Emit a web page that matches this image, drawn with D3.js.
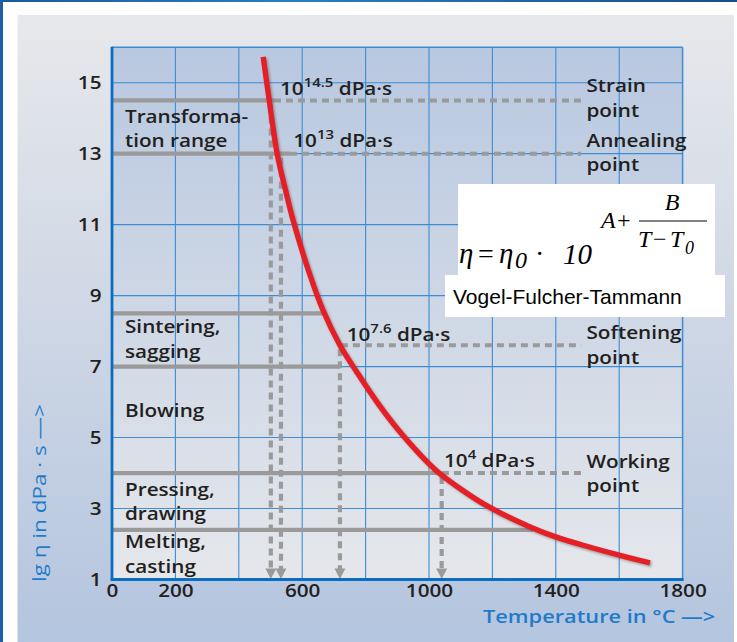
<!DOCTYPE html>
<html><head><meta charset="utf-8">
<script src="https://cdn.jsdelivr.net/npm/d3@7"></script>
<style>
html,body{margin:0;padding:0;background:#fff;}
svg{display:block;}
</style></head>
<body>
<script>
// ---------- data ----------
const tempC = [477, 496, 521, 548, 572, 620, 665, 719, 772, 840, 914, 1019, 1100, 1182, 1319, 1400, 1500, 1603, 1697];
const lgEta = [15.73, 14.5, 13.0, 11.95, 11.1, 9.7, 8.6, 7.6, 6.85, 5.95, 5.1, 4.1, 3.55, 3.08, 2.48, 2.2, 1.93, 1.68, 1.47];

const xTicks = [0, 200, 600, 1000, 1400, 1800];
const xGridVals = [200, 400, 600, 800, 1000, 1200, 1400, 1600];
const yTicks = [1, 3, 5, 7, 9, 11, 13, 15];

// process range boundaries (lg eta) and where the solid gray line ends (°C)
const rangeLevels = [14.5, 13, 8.5, 7, 4, 2.4];
const rangeSolidEnd = [511, 561, 666, 719, 1003, 1328];
// fixed points: lg eta, temperature where it is reached
const fixedLevels = [14.5, 13, 7.6, 4];
const fixedTemps = [501, 533, 719, 1040];
const fixedDashStart = [511, 561, 722, 1003];
const dashEnd = 1480;

const rangeNames = [["Transforma-", "tion range"], ["Sintering,", "sagging"], ["Blowing"], ["Pressing,", "drawing"], ["Melting,", "casting"]];
const fixedNames = [["Strain", "point"], ["Annealing", "point"], ["Softening", "point"], ["Working", "point"]];
const fixedExp = ["14.5", "13", "7.6", "4"];

// ---------- layout ----------
const W = 737, H = 642;
const SX = 1.15; // horizontal stretch of chart lettering
const FONT = "'Open Sans','Noto Sans',sans-serif";
const INK = "#231f20";
const BLUE_T = "#1f7bc9";

const svg = d3.select("body").append("svg").attr("width", W).attr("height", H);
const defs = svg.append("defs");
const g1 = defs.append("linearGradient").attr("id", "panelG").attr("x1", 0).attr("y1", 0).attr("x2", 0).attr("y2", 1);
g1.append("stop").attr("offset", "0%").attr("stop-color", "#e7e8eb");
g1.append("stop").attr("offset", "100%").attr("stop-color", "#b4c5df");
const g2 = defs.append("linearGradient").attr("id", "plotG").attr("x1", 0).attr("y1", 0).attr("x2", 0).attr("y2", 1);
g2.append("stop").attr("offset", "0%").attr("stop-color", "#b8c8e0");
g2.append("stop").attr("offset", "100%").attr("stop-color", "#e5e7eb");
const g3 = defs.append("linearGradient").attr("id", "barG").attr("x1", 0).attr("y1", 0).attr("x2", 1).attr("y2", 0);
g3.append("stop").attr("offset", "0%").attr("stop-color", "#1b5a9e");
g3.append("stop").attr("offset", "40%").attr("stop-color", "#2a7fc0");
g3.append("stop").attr("offset", "100%").attr("stop-color", "#1b4d8a");
const blur = defs.append("filter").attr("id", "shadow").attr("x", "-10%").attr("y", "-10%").attr("width", "120%").attr("height", "120%");
blur.append("feGaussianBlur").attr("stdDeviation", 1.2);

// frame
svg.append("rect").attr("width", W).attr("height", H).attr("fill", "#fff");
svg.append("rect").attr("x", 17.5).attr("y", 15).attr("width", 716.5).attr("height", H - 15).attr("fill", "url(#panelG)");
svg.append("rect").attr("x", 0).attr("y", 0).attr("width", W).attr("height", 2).attr("fill", "url(#barG)");
svg.append("rect").attr("x", 0).attr("y", 0).attr("width", 3).attr("height", H).attr("fill", "#1d5ea8");

const L = 112, R = 682.6, T = 47.2, B = 579.5;
const x = d3.scaleLinear().domain([0, 1800]).range([L, R]);
const y = d3.scaleLinear().domain([1, 16]).range([B, T]);

svg.append("rect").attr("x", L).attr("y", T).attr("width", R - L).attr("height", B - T).attr("fill", "url(#plotG)");

// grid
const grid = svg.append("g").attr("stroke", "#3a8dd6").attr("stroke-width", 1.1);
grid.selectAll("line.v").data(xGridVals).join("line")
  .attr("x1", d => x(d)).attr("x2", d => x(d)).attr("y1", T).attr("y2", B);
grid.selectAll("line.h").data(yTicks.filter(d => d > 1)).join("line")
  .attr("x1", L).attr("x2", R).attr("y1", d => y(d)).attr("y2", d => y(d));
// top & right border
svg.append("line").attr("x1", L).attr("x2", R).attr("y1", T).attr("y2", T).attr("stroke", "#3a8dd6").attr("stroke-width", 1.5);
svg.append("line").attr("x1", R).attr("x2", R).attr("y1", T).attr("y2", B).attr("stroke", "#3a8dd6").attr("stroke-width", 1.5);

const GRAY = "#9a9a9a";
// solid range lines
svg.append("g").selectAll("line").data(rangeLevels).join("line")
  .attr("x1", L).attr("x2", (d, i) => x(rangeSolidEnd[i]))
  .attr("y1", d => y(d)).attr("y2", d => y(d))
  .attr("stroke", GRAY).attr("stroke-width", 4.2);
// dashed horizontal lines to fixed-point labels
svg.append("g").selectAll("line").data(fixedLevels).join("line")
  .attr("x1", (d, i) => x(fixedDashStart[i])).attr("x2", x(dashEnd))
  .attr("y1", d => y(d)).attr("y2", d => y(d))
  .attr("stroke", GRAY).attr("stroke-width", 4).attr("stroke-dasharray", "7,5");
// vertical dashed drop lines with arrow heads
svg.append("g").selectAll("line").data(fixedTemps).join("line")
  .attr("x1", d => x(d)).attr("x2", d => x(d))
  .attr("y1", (d, i) => y(fixedLevels[i]) + 4).attr("y2", B - 10)
  .attr("stroke", GRAY).attr("stroke-width", 4.2).attr("stroke-dasharray", "7,5");
svg.append("g").selectAll("path").data(fixedTemps).join("path")
  .attr("d", d => `M${x(d) - 5.5},${B - 11}L${x(d) + 5.5},${B - 11}L${x(d)},${B - 0.5}Z`)
  .attr("fill", GRAY);

// axis lines
svg.append("line").attr("x1", L).attr("x2", L).attr("y1", T - 0.5).attr("y2", B + 1.3).attr("stroke", "#0a6dc0").attr("stroke-width", 2.8);
svg.append("line").attr("x1", L - 1.3).attr("x2", R + 1).attr("y1", B).attr("y2", B).attr("stroke", "#0a6dc0").attr("stroke-width", 2.8);

// curve
const pts = tempC.map((t, i) => [t, lgEta[i]]);
const line = d3.line().x(d => x(d[0])).y(d => y(d[1])).curve(d3.curveCatmullRom.alpha(0.5));
svg.append("path").attr("d", line(pts)).attr("fill", "none").attr("stroke", "#555").attr("stroke-opacity", 0.45)
  .attr("stroke-width", 5.5).attr("transform", "translate(1.6,1.8)").attr("filter", "url(#shadow)");
svg.append("path").attr("d", line(pts)).attr("fill", "none").attr("stroke", "#e61f27").attr("stroke-width", 5.4);

// axes (tick labels)
const xAxis = svg.append("g").attr("transform", `translate(0,${B})`)
  .call(d3.axisBottom(x).tickValues(xTicks).tickSize(0).tickPadding(5).tickFormat(d3.format("d")));
const yAxis = svg.append("g").attr("transform", `translate(${L},0)`)
  .call(d3.axisLeft(y).tickValues(yTicks).tickSize(0).tickPadding(10).tickFormat(d3.format("d")));
[xAxis, yAxis].forEach(a => {
  a.select(".domain").remove();
  a.selectAll("text").attr("font-family", FONT).attr("font-weight", 600).attr("font-size", 18).attr("fill", INK);
});
xAxis.selectAll("text").attr("transform", `scale(${SX},1)`);
yAxis.selectAll("text").attr("x", 0).attr("transform", `translate(-10.5,0) scale(${SX},1)`);

// text helper
function label(px, py, str, opt = {}) {
  const t = svg.append("text").attr("transform", `translate(${px},${py}) scale(${opt.sx || SX},1)`)
    .attr("font-family", opt.family || FONT).attr("font-weight", opt.weight || 600)
    .attr("font-size", opt.size || 18).attr("fill", opt.fill || INK)
    .attr("text-anchor", opt.anchor || "start");
  if (opt.style) t.attr("font-style", opt.style);
  t.text(str);
  return t;
}
function supLabel(px, py, exp) {
  const t = svg.append("text").attr("transform", `translate(${px},${py}) scale(${SX},1)`)
    .attr("font-family", FONT).attr("font-weight", 600).attr("font-size", 18).attr("fill", INK);
  t.append("tspan").text("10");
  t.append("tspan").attr("dy", -8).attr("font-size", 13).text(exp);
  t.append("tspan").attr("dy", 8).text("\u00a0dPa\u00b7s");
}

// process range names (left)
const rangeBase = [[122.7, 147.2], [333, 357.5], [417], [495.5, 520], [548.3, 573]];
rangeNames.forEach((lines, i) => lines.forEach((s, j) => label(125, rangeBase[i][j], s)));
// fixed point names (right)
const fixedBase = [[92.3, 116.5], [147, 170.5], [339.3, 363.5], [468.3, 492]];
fixedNames.forEach((lines, i) => lines.forEach((s, j) => label(586.5, fixedBase[i][j], s)));
// viscosity values
const supPos = [[280, 95], [293.3, 147.3], [346.7, 340.7], [444, 466.7]];
fixedExp.forEach((e, i) => supLabel(supPos[i][0], supPos[i][1], e));

// axis titles
label(483, 622.5, "Temperature in \u00b0C \u2014>", { fill: BLUE_T, size: 18, sx: 1.21 });
svg.append("text").attr("transform", `translate(46,582) rotate(-90) scale(1.25,1)`)
  .attr("font-family", FONT).attr("font-weight", 500).attr("font-size", 18).attr("fill", BLUE_T)
  .text("lg \u03b7 in dPa \u00b7 s \u2014>");

// formula boxes
svg.append("rect").attr("x", 458).attr("y", 184).attr("width", 257).attr("height", 92).attr("fill", "#fff");
svg.append("rect").attr("x", 445).attr("y", 275).attr("width", 280).attr("height", 42).attr("fill", "#fff");
const SERIF = "'Liberation Serif','Times New Roman',serif";
const f = { family: SERIF, weight: 400, sx: 1, style: "italic", fill: "#000" };
label(459, 263, "\u03b7", { ...f, size: 29 });
label(478, 263, "=", { ...f, size: 28, style: "normal" });
label(499, 263, "\u03b7", { ...f, size: 29 });
label(515, 268, "0", { ...f, size: 24 });
label(535, 263, "\u00b7", { ...f, size: 28, style: "normal" });
label(563, 264, "10", { ...f, size: 29 });
label(601, 228, "A", { ...f, size: 24 });
label(617, 228, "+", { ...f, size: 24, style: "normal" });
label(672, 210, "B", { ...f, size: 24, anchor: "middle" });
svg.append("line").attr("x1", 639).attr("x2", 707).attr("y1", 221).attr("y2", 221).attr("stroke", "#000").attr("stroke-width", 1.2);
label(638, 247, "T", { ...f, size: 24 });
label(653, 247, "\u2212", { ...f, size: 24, style: "normal" });
label(670, 247, "T", { ...f, size: 24 });
label(685, 254, "0", { ...f, size: 18 });
label(453, 303.5, "Vogel-Fulcher-Tammann", { family: "'Liberation Sans',Arial,sans-serif", weight: 400, sx: 1, size: 21, fill: "#000" });
</script>
</body></html>
